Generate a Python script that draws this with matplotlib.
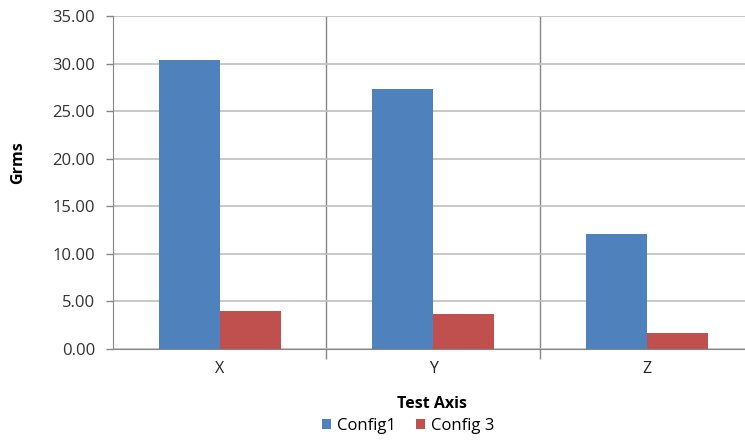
import matplotlib
matplotlib.use('Agg')
import matplotlib.pyplot as plt
import numpy as np

# data
axes_labels = ['X', 'Y', 'Z']
config1 = [30.35, 27.35, 12.05]
config3 = [3.95, 3.65, 1.65]
yticks = [0, 5, 10, 15, 20, 25, 30, 35]

BLUE = '#4F81BD'
RED = '#C0504D'
GRID = '#BFBFBF'
AXCOL = '#868686'

plt.rcParams['font.family'] = ['Open Sans', 'DejaVu Sans']

W, H = 745, 440
fig = plt.figure(figsize=(W / 100, H / 100), dpi=100)
# plot area: left 113px, top 16px, bottom 349px; right edge is cut off by the figure
left, top, bottom = 113, 16, 349
cat_w = 213.5
ax = fig.add_axes([left / W, 1 - bottom / H, 3 * cat_w / W, (bottom - top) / H])

x = np.arange(len(axes_labels))
bw = 0.285
ax.bar(x - bw / 2, config1, bw, color=BLUE, label='Config1', zorder=3)
ax.bar(x + bw / 2, config3, bw, color=RED, label='Config 3', zorder=3)

ax.set_xlim(-0.5, 2.5)
ax.set_ylim(0, 35)
ax.set_yticks(yticks)
ax.set_yticklabels([f'{v:.2f}' for v in yticks], fontsize=12, color='#333333')
ax.yaxis.grid(True, color=GRID, lw=1.2, zorder=0)

# category separators (vertical lines) extending below the axis as tick marks
ax.set_xticks([0.5, 1.5, 2.5])
ax.set_xticklabels([])
ax.tick_params(axis='x', length=7, color=AXCOL, width=1)
ax.tick_params(axis='y', length=5, color=AXCOL, width=1, pad=8)
for xv in [0.5, 1.5]:
    ax.axvline(xv, color=AXCOL, lw=1, zorder=1)
for i, lab in enumerate(axes_labels):
    ax.text(i, -2.1, lab, ha='center', va='center', fontsize=11.5, color='#222222')

for s in ['top', 'right']:
    ax.spines[s].set_visible(False)
ax.spines['left'].set_color(AXCOL)
ax.spines['bottom'].set_color(AXCOL)

fig.text(18 / W, 1 - 163 / H, 'Grms', rotation=90, ha='center', va='center',
         fontsize=11.5, fontweight='bold')
fig.text(432 / W, 1 - 404 / H, 'Test Axis', ha='center', va='center',
         fontsize=11.5, fontweight='bold')

fig.legend(loc='center', bbox_to_anchor=(408 / W, 1 - 426 / H), ncol=2, frameon=False,
           fontsize=12, handlelength=0.55, handleheight=0.55, handletextpad=0.35,
           columnspacing=1.2, borderpad=0)

fig.savefig('out.png', dpi=100)
